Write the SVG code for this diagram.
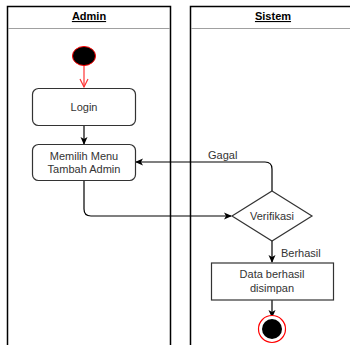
<svg xmlns="http://www.w3.org/2000/svg" width="350" height="345" viewBox="0 0 350 345">
<style>
.lane{fill:none;stroke:#000;stroke-width:1.5}
.div{stroke:#a0a0a0;stroke-width:1.2}
.hdr{font-family:"Liberation Sans",Arial,sans-serif;font-size:11px;font-weight:bold;fill:#000;text-decoration:underline;text-anchor:middle}
.txt{font-family:"Liberation Sans",Arial,sans-serif;font-size:11px;fill:#333;text-anchor:middle}
.lbl{font-family:"Liberation Sans",Arial,sans-serif;font-size:11px;fill:#333}
.node{fill:#fff;stroke:#333;stroke-width:1.2}
.edge{fill:none;stroke:#000;stroke-width:1.2}
</style>
<defs>
<marker id="arr" markerWidth="10" markerHeight="10" refX="8" refY="5" orient="auto" markerUnits="userSpaceOnUse">
<path d="M1,1.5 L9,5 L1,8.5 L3,5 Z" fill="#000"/>
</marker>
<marker id="open" markerWidth="12" markerHeight="12" refX="9" refY="6" orient="auto" markerUnits="userSpaceOnUse">
<path d="M1,2 L9,6 L1,10" fill="none" stroke="#ff3333" stroke-width="1.2"/>
</marker>
</defs>
<rect width="350" height="345" fill="#fff"/>
<g id="lane-admin">
<path class="lane" d="M7.5,350 V6.5 H170.5 V350"/>
<line class="div" x1="8" y1="28.5" x2="170" y2="28.5"/>
<text class="hdr" x="89" y="20">Admin</text>
</g>
<g id="lane-sistem">
<path class="lane" d="M190.5,350 V6.5 H360"/>
<line class="div" x1="191" y1="28.5" x2="360" y2="28.5"/>
<text class="hdr" x="273" y="20">Sistem</text>
</g>
<g id="connectors">
<line x1="84" y1="65" x2="84" y2="87" fill="none" stroke="#ff3333" stroke-width="1.2" marker-end="url(#open)"/>
<line class="edge" x1="84" y1="125" x2="84" y2="144" marker-end="url(#arr)"/>
<path class="edge" d="M84,181 V209 Q84,216 91,216 H231" marker-end="url(#arr)"/>
<path class="edge" d="M272,191 V169 Q272,162 265,162 H136" marker-end="url(#arr)"/>
<text class="lbl" x="208" y="159">Gagal</text>
<line class="edge" x1="272" y1="241" x2="272" y2="262" marker-end="url(#arr)"/>
<text class="lbl" x="281" y="257">Berhasil</text>
<line class="edge" x1="272" y1="300" x2="272" y2="317" marker-end="url(#arr)"/>
</g>
<g id="start">
<ellipse cx="84" cy="56" rx="11.5" ry="9.5" fill="#000" stroke="#ff0000" stroke-width="1"/>
</g>
<g id="login">
<rect class="node" x="32.5" y="88.5" width="103" height="37" rx="6"/>
<text class="txt" x="84" y="111">Login</text>
</g>
<g id="memilih">
<rect class="node" x="32.5" y="144.5" width="103" height="36" rx="6"/>
<text class="txt" x="84" y="160">Memilih Menu</text>
<text class="txt" x="84" y="173">Tambah Admin</text>
</g>
<g id="verifikasi">
<polygon class="node" points="272,191 312,216 272,241 232,216"/>
<text class="txt" x="272" y="220">Verifikasi</text>
</g>
<g id="data">
<rect class="node" x="211.5" y="263" width="122" height="37"/>
<text class="txt" x="272" y="278">Data berhasil</text>
<text class="txt" x="272" y="292">disimpan</text>
</g>
<g id="end">
<circle cx="272" cy="329" r="13.5" fill="#fff" stroke="#ff0000" stroke-width="1.2"/>
<circle cx="272" cy="329" r="10" fill="#000"/>
</g>
</svg>
